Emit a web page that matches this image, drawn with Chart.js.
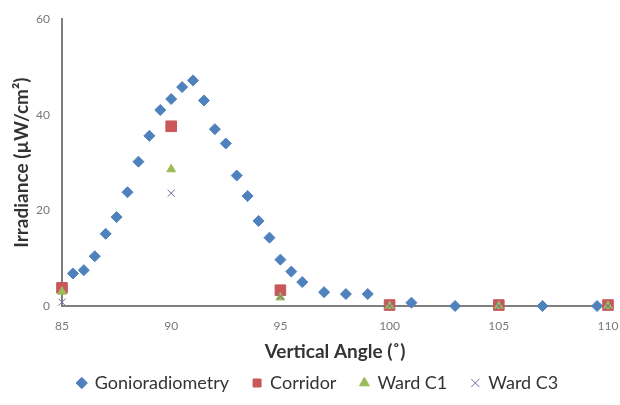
<!DOCTYPE html>
<html>
<head>
<meta charset="utf-8">
<script src="https://cdn.jsdelivr.net/npm/chart.js@4/dist/chart.umd.min.js"></script>
<style>
  html, body { margin: 0; padding: 0; background: #fff; }
  #wrap { width: 620px; height: 405px; position: relative; }
</style>
</head>
<body>
<div id="wrap"><canvas id="irrChart"></canvas></div>
<script>
// Datos
const gonioAngulos = [85.5, 86, 86.5, 87, 87.5, 88, 88.5, 89, 89.5, 90, 90.5, 91, 91.5, 92, 92.5, 93, 93.5, 94, 94.5, 95, 95.5, 96, 97, 98, 99, 101, 103, 107, 109.5];
const gonioValores = [6.8, 7.5, 10.4, 15.1, 18.6, 23.8, 30.2, 35.6, 41, 43.3, 45.8, 47.2, 43, 37, 34, 27.3, 23, 17.8, 14.3, 9.7, 7.2, 5, 2.9, 2.5, 2.5, 0.7, 0, 0, 0];

const simAngulos = [85, 90, 95, 100, 105, 110];
const corridorValores = [3.8, 37.6, 3.3, 0.2, 0.2, 0.2];
const wardC1Valores = [3.0, 28.6, 1.8, 0, 0, 0];
const wardC3Valores = [0.8, 23.6, 2.0, 0, 0, 0];

const ticksX = [85, 90, 95, 100, 105, 110];
const ticksY = [0, 20, 40, 60];

function puntos(xs, ys) {
    return xs.map((x, i) => ({ x: x, y: ys[i] }));
}

const fuente = "Lato, 'Open Sans', sans-serif";

// Las series posteriores se dibujan encima (como en el original)
const ctx = document.getElementById('irrChart').getContext('2d');
new Chart(ctx, {
    type: 'scatter',
    data: {
        datasets: [{
            label: 'Gonioradiometry',
            data: puntos(gonioAngulos, gonioValores),
            order: 4,
            pointStyle: 'rectRot',
            pointRadius: 5.5,
            backgroundColor: '#4F81BD',
            borderColor: '#4F81BD',
            borderWidth: 1,
            clip: false
        }, {
            label: 'Corridor',
            data: puntos(simAngulos, corridorValores),
            order: 3,
            pointStyle: 'rect',
            pointRadius: 7.5,
            backgroundColor: '#C9585A',
            borderColor: '#C9585A',
            borderWidth: 1,
            clip: false
        }, {
            label: 'Ward C1',
            data: puntos(simAngulos, wardC1Valores),
            order: 2,
            pointStyle: 'triangle',
            pointRadius: 5,
            backgroundColor: '#9BBB59',
            borderColor: '#9BBB59',
            borderWidth: 1,
            clip: false
        }, {
            label: 'Ward C3',
            data: puntos(simAngulos, wardC3Valores),
            order: 1,
            pointStyle: 'crossRot',
            pointRadius: 5,
            backgroundColor: '#8064A2',
            borderColor: '#8064A2',
            borderWidth: 1,
            clip: false
        }]
    },
    options: {
        responsive: true,
        maintainAspectRatio: false,
        animation: false,
        layout: { padding: { top: 16, right: 12, left: 28, bottom: 3 } },
        scales: {
            x: {
                type: 'linear',
                min: 85,
                max: 110,
                afterBuildTicks: function(axis) {
                    axis.ticks = ticksX.map(v => ({ value: v }));
                },
                afterFit: function(axis) {
                    axis.height = 44;
                    axis.paddingRight = 0;
                    axis.paddingLeft = 0;
                },
                grid: { display: false, drawTicks: false },
                border: { color: '#7f7f7f', width: 2 },
                ticks: { color: '#777', padding: 13, font: { family: fuente, size: 12 } },
                title: {
                    display: true,
                    text: 'Vertical Angle (˚)',
                    color: '#333',
                    font: { family: fuente, size: 19, weight: 'bold' },
                    padding: { top: 0, bottom: -13 }
                }
            },
            y: {
                min: 0,
                max: 60,
                afterBuildTicks: function(axis) {
                    axis.ticks = ticksY.map(v => ({ value: v }));
                },
                afterFit: function(axis) { axis.width = 34; },
                grid: { display: false, drawTicks: false },
                border: { color: '#7f7f7f', width: 2 },
                ticks: { color: '#777', padding: 12, font: { family: fuente, size: 12 } },
                title: {
                    display: true,
                    text: 'Irradiance (µW/cm²)',
                    color: '#333',
                    font: { family: fuente, size: 19, weight: 'bold' },
                    padding: { top: -18, bottom: 0 }
                }
            }
        },
        plugins: {
            legend: {
                position: 'bottom',
                labels: {
                    usePointStyle: true,
                    boxWidth: 8,
                    boxHeight: 8,
                    padding: 24,
                    color: '#333',
                    font: { family: fuente, size: 18 },
                    sort: (a, b) => a.datasetIndex - b.datasetIndex
                }
            },
            tooltip: { enabled: false }
        }
    }
});
</script>
</body>
</html>
